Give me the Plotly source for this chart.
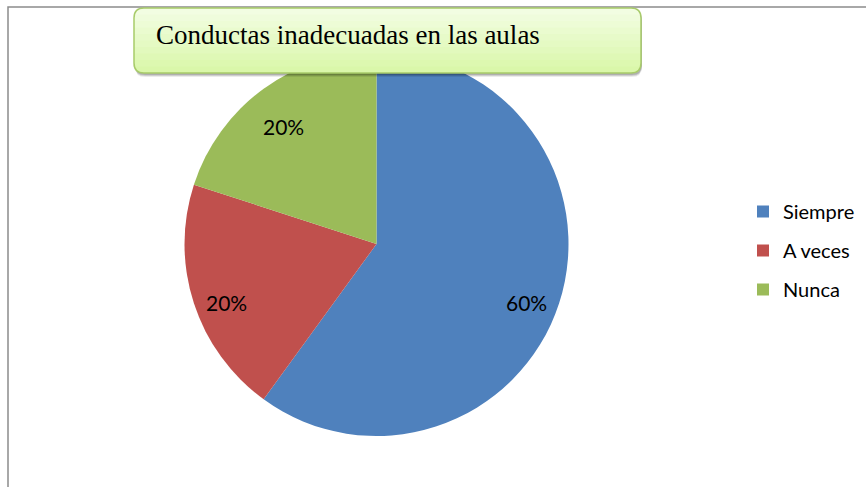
import plotly.graph_objects as go
import math

# ---- data ----
categories = ["Siempre", "A veces", "Nunca"]
values = [60, 20, 20]
colors = ["#4F81BD", "#C0504D", "#9BBB59"]
title_text = "Conductas inadecuadas en las aulas"

# ---- canvas geometry ----
W, H = 866, 487
def px(x):
    return x / W
def py(y):
    return 1 - y / H

CX, CY, R = 376.5, 244, 192
LABEL_FRAC = 0.82
LABEL_DROP = 10  # px

fig = go.Figure()

fig.add_trace(go.Pie(
    labels=categories,
    values=values,
    marker=dict(colors=colors, line=dict(width=0)),
    sort=False,
    direction="clockwise",
    rotation=0,
    textinfo="none",
    hoverinfo="skip",
    showlegend=False,
    domain=dict(x=[px(CX - R), px(CX + R)], y=[py(CY + R), py(CY - R)]),
))

# legend entries (one per category)
for i, (cat, col) in enumerate(zip(categories, colors)):
    fig.add_trace(go.Scatter(
        x=[None], y=[None], mode="markers", name=cat,
        marker=dict(symbol="square", size=12, color=col),
        legendgroup=f"g{i}", showlegend=True,
    ))

# percentage labels placed along mid-angles derived from the data
total = sum(values)
annotations = []
cum = 0
for v in values:
    mid = (cum + v / 2) / total * 2 * math.pi
    cum += v
    lx = CX + LABEL_FRAC * R * math.sin(mid)
    ly = CY - LABEL_FRAC * R * math.cos(mid) + LABEL_DROP
    annotations.append(dict(
        x=px(lx), y=py(ly), xref="paper", yref="paper",
        text=f"{round(v / total * 100)}%", showarrow=False,
        font=dict(family="Lato", size=21, color="black"),
        xanchor="center", yanchor="middle",
    ))

annotations.append(dict(
    x=px(154), y=py(35), xref="paper", yref="paper",
    text=title_text, showarrow=False,
    font=dict(family="Liberation Serif", size=27, color="black"),
    xanchor="left", yanchor="middle",
))

# ---- title box (rounded, gradient-ish, shadow) ----
def rpath(x0, y0, x1, y1, r, top_round=True):
    def P(x, y):
        return f"{px(x)},{py(y)}"
    rt = r if top_round else 0
    parts = [f"M {P(x0 + rt, y0)}", f"L {P(x1 - rt, y0)}"]
    if rt:
        parts.append(f"Q {P(x1, y0)} {P(x1, y0 + rt)}")
    parts.append(f"L {P(x1, y1 - r)}")
    parts.append(f"Q {P(x1, y1)} {P(x1 - r, y1)}")
    parts.append(f"L {P(x0 + r, y1)}")
    parts.append(f"Q {P(x0, y1)} {P(x0, y1 - r)}")
    parts.append(f"L {P(x0, y0 + rt)}")
    if rt:
        parts.append(f"Q {P(x0, y0)} {P(x0 + rt, y0)}")
    parts.append("Z")
    return " ".join(parts)

BX0, BY0, BX1, BY1, BR = 134, 8, 641, 73, 10
shapes = []
# chart frame
shapes.append(dict(type="rect", xref="paper", yref="paper",
                   x0=px(8), y0=py(7), x1=px(880), y1=py(500),
                   line=dict(color="#8C8C8C", width=1.5), fillcolor="rgba(0,0,0,0)",
                   layer="below"))
# shadow
for off, op in [(4, 0.08), (3, 0.12), (2, 0.15)]:
    shapes.append(dict(type="path", xref="paper", yref="paper",
                       path=rpath(BX0 + 1, BY0 + off, BX1 + 1, BY1 + off, BR),
                       fillcolor=f"rgba(0,0,0,{op})", line=dict(width=0), layer="above"))
# gradient bands
top_c = (242, 253, 226)
bot_c = (218, 247, 170)
n = 10
for i in range(n):
    t = i / (n - 1)
    c = tuple(round(top_c[k] + (bot_c[k] - top_c[k]) * t) for k in range(3))
    ytop = BY0 + (BY1 - BY0) * i / n
    shapes.append(dict(type="path", xref="paper", yref="paper",
                       path=rpath(BX0, ytop, BX1, BY1, BR, top_round=(i == 0)),
                       fillcolor=f"rgb{c}", line=dict(width=0), layer="above"))
shapes.append(dict(type="path", xref="paper", yref="paper",
                   path=rpath(BX0, BY0, BX1, BY1, BR),
                   fillcolor="rgba(0,0,0,0)", line=dict(color="#A8CB6A", width=1.5),
                   layer="above"))

fig.update_layout(
    width=W, height=H,
    margin=dict(l=0, r=0, t=0, b=0),
    paper_bgcolor="white", plot_bgcolor="white",
    xaxis=dict(visible=False), yaxis=dict(visible=False),
    showlegend=True,
    legend=dict(x=px(743), y=py(192), xanchor="left", yanchor="top",
                font=dict(family="Lato", size=20, color="black"),
                tracegroupgap=10, bgcolor="rgba(0,0,0,0)"),
    shapes=shapes,
    annotations=annotations,
)

fig.write_html("out.html", post_script="document.body.style.margin='0';",
               config={"displayModeBar": False})
